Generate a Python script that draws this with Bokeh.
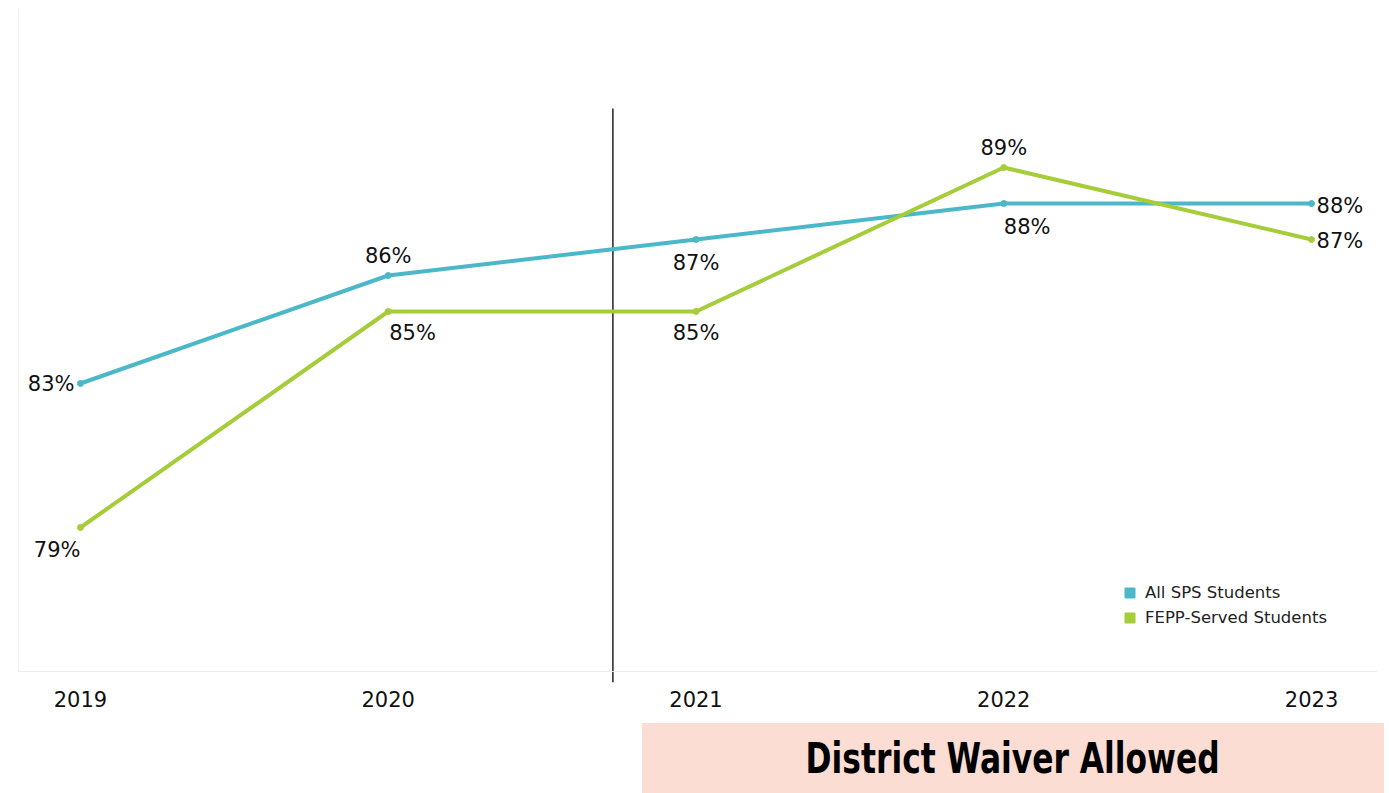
from bokeh.plotting import figure
from bokeh.models import (ColumnDataSource, FixedTicker, Span, Legend, LegendItem,
                          Div, Spacer, Range1d)
from bokeh.layouts import column, row
from bokeh.core.properties import value
from bokeh.embed import file_html
from bokeh.resources import INLINE

# ---- data ----
years = [2019, 2020, 2021, 2022, 2023]
tick_labels = ["2019", "2020", "2021", "2022", "2023"]
all_sps = [83, 86, 87, 88, 88]
fepp = [79, 85, 85, 89, 87]
series_names = ["All SPS Students", "FEPP-Served Students"]
waiver_year = 2020.73
banner_text = "District Waiver Allowed"

BLUE = "#4ab8c8"
GREEN = "#a5cd39"

# label placement styles (screen offsets)
blue_align = ["right", "center", "center", "left", "left"]
blue_xoff = [-6, 0, 0, 0, 5]
blue_yoff = [1, -20, 23, 23, 2]
green_align = ["right", "left", "center", "center", "left"]
green_xoff = [0, 1, 0, 0, 5]
green_yoff = [23, 22, 22, -20, 1]

Y0, Y1 = 74.694, 93.417
X0, X1 = 2018.7955, 2023.2143

p = figure(width=1389, height=723, output_backend="svg", toolbar_location=None,
           x_range=Range1d(X0, X1), y_range=Range1d(Y0, Y1),
           min_border_left=17, min_border_right=12, min_border_top=8, min_border_bottom=41)
p.outline_line_color = None
p.background_fill_color = "white"
p.border_fill_color = "white"
p.grid.visible = False
p.yaxis.visible = False

xa = p.xaxis[0]
xa.ticker = FixedTicker(ticks=years)
xa.major_label_overrides = {y: l for y, l in zip(years, tick_labels)}
xa.axis_line_color = None
xa.major_tick_line_color = None
xa.minor_tick_line_color = None
xa.major_label_standoff = 2
xa.major_label_text_font = "DejaVu Sans"
xa.major_label_text_font_size = "21px"
xa.major_label_text_color = "#111111"

# faint frame lines
p.add_layout(Span(location=75, dimension="width", line_color="#ececec", line_width=1))
p.segment(x0=[X0 + 0.002], y0=[75], x1=[X0 + 0.002], y1=[Y1], line_color="#ececec", line_width=1)

# waiver divider line
p.segment(x0=[waiver_year], y0=[Y0], x1=[waiver_year], y1=[90.64],
          line_color="#222222", line_width=1.5)

src_b = ColumnDataSource(dict(x=years, y=all_sps, t=[f"{v}%" for v in all_sps],
                              a=blue_align, xo=blue_xoff, yo=blue_yoff))
src_g = ColumnDataSource(dict(x=years, y=fepp, t=[f"{v}%" for v in fepp],
                              a=green_align, xo=green_xoff, yo=green_yoff))

p.line("x", "y", source=src_b, line_color=BLUE, line_width=4)
p.scatter("x", "y", source=src_b, size=6, fill_color=BLUE, line_color=BLUE)
p.line("x", "y", source=src_g, line_color=GREEN, line_width=4)
p.scatter("x", "y", source=src_g, size=6, fill_color=GREEN, line_color=GREEN)

for src in (src_b, src_g):
    p.text("x", "y", text="t", source=src, text_align="a", x_offset="xo", y_offset="yo",
           text_baseline="middle", text_font=value("DejaVu Sans"),
           text_font_size="21px", text_color="#111111")

# legend with square swatches (proxy points placed outside the visible range)
lb = p.scatter(x=[X0 - 5], y=[Y0 - 5], marker="square", size=10, fill_color=BLUE, line_color=BLUE)
lg = p.scatter(x=[X0 - 5], y=[Y0 - 5], marker="square", size=10, fill_color=GREEN, line_color=GREEN)
legend = Legend(items=[LegendItem(label=series_names[0], renderers=[lb]),
                       LegendItem(label=series_names[1], renderers=[lg])],
                location=(1100, 52), glyph_width=25, glyph_height=25, label_height=20,
                spacing=0, padding=0, margin=0, label_standoff=3,
                label_text_font="DejaVu Sans", label_text_font_size="16.5px",
                label_text_color="#222222", border_line_color=None,
                background_fill_alpha=0)
p.add_layout(legend, "center")

banner = Div(text='<span style="display:inline-block;transform:scaleX(0.81)">' + banner_text + '</span>',
             width=742, height=70, margin=0,
             styles={"background-color": "#fbddd3", "text-align": "center",
                     "font-family": "'DejaVu Sans Condensed', 'DejaVu Sans', sans-serif",
                     "font-weight": "bold", "font-size": "43px", "line-height": "70px",
                     "color": "#000000"})

layout = column(p, row(Spacer(width=642, height=70, margin=0), banner))
open("out.html", "w").write(file_html(layout, INLINE))
